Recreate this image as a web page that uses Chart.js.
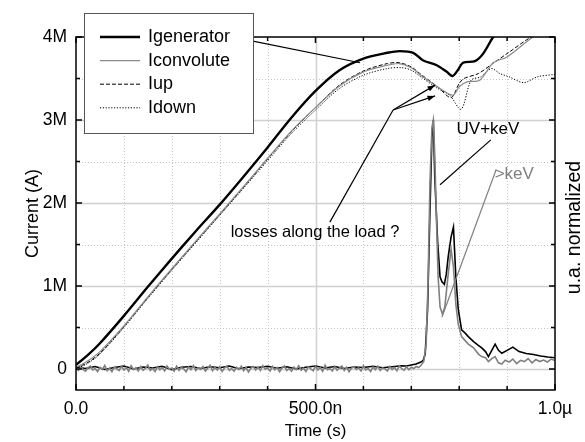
<!DOCTYPE html>
<html>
<head>
<meta charset="utf-8">
<script src="https://cdn.jsdelivr.net/npm/chart.js@4.4.1/dist/chart.umd.min.js"></script>
<style>
  body { margin: 0; background: #fff; }
  canvas { display: block; }
</style>
</head>
<body>
<canvas id="chart" width="585" height="442"></canvas>
<script>
// axes (time in µs, current in MA, signals normalized so 1.0 sits on 3M)
const xTicks = [0, 0.5, 1.0];
const xTickLabels = ['0.0', '500.0n', '1.0\u00b5'];
const xGrid = [0, 0.1, 0.2, 0.3, 0.4, 0.5, 0.6, 0.7, 0.8, 0.9, 1.0];
const yTicks = [0, 1, 2, 3, 4];
const yTickLabels = ['0', '1M', '2M', '3M', '4M'];
const yGrid = [0, 0.5, 1, 1.5, 2, 2.5, 3, 3.5, 4];
const yMin = -0.253, yMax = 4;
const normTo = 3;

// currents
const tGen = [0, 0.025, 0.05, 0.1, 0.15, 0.2, 0.25, 0.3, 0.35, 0.4, 0.45, 0.5, 0.55, 0.6, 0.65, 0.676, 0.704, 0.724, 0.753, 0.774, 0.786, 0.797, 0.808, 0.833, 0.85, 0.871, 0.9, 1.0];
const iGen = [0.05, 0.17, 0.31, 0.64, 0.99, 1.33, 1.66, 1.98, 2.32, 2.67, 3.03, 3.35, 3.6, 3.74, 3.81, 3.83, 3.81, 3.72, 3.66, 3.58, 3.53, 3.6, 3.69, 3.71, 3.8, 4.0, 4.2, 4.5];

const tConv = [0, 0.025, 0.05, 0.1, 0.15, 0.2, 0.25, 0.3, 0.35, 0.4, 0.45, 0.5, 0.55, 0.6, 0.65, 0.675, 0.7, 0.72, 0.755, 0.787, 0.8, 0.816, 0.843, 0.871, 0.9, 0.954, 1.0];
const iConv = [0.02, 0.1, 0.21, 0.52, 0.87, 1.21, 1.54, 1.87, 2.2, 2.54, 2.87, 3.15, 3.41, 3.58, 3.66, 3.68, 3.63, 3.54, 3.4, 3.3, 3.4, 3.46, 3.48, 3.69, 3.76, 4.0, 4.15];

const tUp = [0, 0.025, 0.05, 0.1, 0.15, 0.2, 0.25, 0.3, 0.35, 0.4, 0.45, 0.5, 0.55, 0.6, 0.65, 0.675, 0.7, 0.72, 0.755, 0.783, 0.8, 0.81, 0.84, 0.87, 0.9, 0.95, 1.0];
const iUp = [0.01, 0.08, 0.19, 0.51, 0.86, 1.2, 1.53, 1.86, 2.19, 2.53, 2.86, 3.15, 3.42, 3.59, 3.68, 3.69, 3.64, 3.55, 3.4, 3.27, 3.44, 3.5, 3.56, 3.68, 3.8, 4.0, 4.15];

const tDown = [0, 0.025, 0.05, 0.1, 0.15, 0.2, 0.25, 0.3, 0.35, 0.4, 0.45, 0.5, 0.55, 0.6, 0.65, 0.68, 0.7, 0.72, 0.755, 0.78, 0.804, 0.825, 0.845, 0.867, 0.885, 0.904, 0.935, 0.963, 1.0];
const iDown = [0.0, 0.07, 0.18, 0.5, 0.85, 1.19, 1.52, 1.85, 2.18, 2.51, 2.84, 3.12, 3.38, 3.54, 3.62, 3.63, 3.6, 3.52, 3.38, 3.3, 3.13, 3.48, 3.52, 3.62, 3.56, 3.52, 3.45, 3.52, 3.55];

// UV+keV signal (black)
const tUV = [0, 0.02, 0.04, 0.06, 0.08, 0.1, 0.12, 0.14, 0.16, 0.18, 0.2, 0.22, 0.24, 0.26, 0.28, 0.3, 0.32, 0.34, 0.36, 0.38, 0.4, 0.42, 0.44, 0.46, 0.48, 0.5, 0.52, 0.54, 0.56, 0.58, 0.6, 0.62, 0.64, 0.66, 0.68, 0.69, 0.7, 0.71, 0.72,
  0.725, 0.729, 0.734, 0.739, 0.743, 0.746, 0.749, 0.755, 0.76, 0.764, 0.769, 0.773, 0.777, 0.783, 0.788, 0.793, 0.798, 0.805, 0.812, 0.819, 0.83, 0.84, 0.847, 0.855, 0.861, 0.868, 0.875, 0.882, 0.889, 0.9, 0.912, 0.925, 0.94, 0.955, 0.97, 0.985, 1.0];
const vUV = [0.008, 0.002, 0.01, -0.002, 0.006, 0.012, 0.0, 0.008, 0.004, 0.011, -0.003, 0.007, 0.01, 0.002, 0.009, 0.005, 0.012, 0.001, 0.008, 0.006, 0.011, 0.003, 0.009, 0.0, 0.007, 0.012, 0.004, 0.01, 0.002, 0.008, 0.006, 0.011, 0.005, 0.009, 0.013, 0.012, 0.016, 0.02, 0.028,
  0.035, 0.06, 0.24, 0.64, 0.93, 1.0, 0.77, 0.51, 0.37, 0.35, 0.34, 0.38, 0.45, 0.53, 0.57, 0.37, 0.24, 0.157, 0.145, 0.13, 0.11, 0.095, 0.085, 0.07, 0.05, 0.075, 0.1, 0.075, 0.063, 0.075, 0.088, 0.07, 0.062, 0.058, 0.052, 0.048, 0.045];

// >keV signal (grey)
const tKeV = [0, 0.005, 0.01, 0.015, 0.02, 0.025, 0.03, 0.035, 0.04, 0.045,
  0.05, 0.055, 0.06, 0.065, 0.07, 0.075, 0.08, 0.085, 0.09, 0.095,
  0.1, 0.105, 0.11, 0.115, 0.12, 0.125, 0.13, 0.135, 0.14, 0.145,
  0.15, 0.155, 0.16, 0.165, 0.17, 0.175, 0.18, 0.185, 0.19, 0.195,
  0.2, 0.205, 0.21, 0.215, 0.22, 0.225, 0.23, 0.235, 0.24, 0.245,
  0.25, 0.255, 0.26, 0.265, 0.27, 0.275, 0.28, 0.285, 0.29, 0.295,
  0.3, 0.305, 0.31, 0.315, 0.32, 0.325, 0.33, 0.335, 0.34, 0.345,
  0.35, 0.355, 0.36, 0.365, 0.37, 0.375, 0.38, 0.385, 0.39, 0.395,
  0.4, 0.405, 0.41, 0.415, 0.42, 0.425, 0.43, 0.435, 0.44, 0.445,
  0.45, 0.455, 0.46, 0.465, 0.47, 0.475, 0.48, 0.485, 0.49, 0.495,
  0.5, 0.505, 0.51, 0.515, 0.52, 0.525, 0.53, 0.535, 0.54, 0.545,
  0.55, 0.555, 0.56, 0.565, 0.57, 0.575, 0.58, 0.585, 0.59, 0.595,
  0.6, 0.605, 0.61, 0.615, 0.62, 0.625, 0.63, 0.635, 0.64, 0.645,
  0.65, 0.655, 0.66, 0.665, 0.67, 0.675, 0.68, 0.685, 0.69, 0.695,
  0.7, 0.705, 0.71, 0.715, 0.72,
  0.726, 0.731, 0.735, 0.739, 0.743, 0.746, 0.749, 0.752, 0.756, 0.76, 0.765, 0.77, 0.777, 0.783, 0.788, 0.793, 0.798, 0.805, 0.812, 0.819, 0.83, 0.84, 0.847, 0.855, 0.861, 0.868, 0.875, 0.882, 0.889, 0.896, 0.904, 0.912, 0.92, 0.928, 0.936, 0.944, 0.952, 0.96, 0.968, 0.976, 0.984, 0.992, 1.0];
const vKeV = [0.004, -0.006, 0.009, -0.003, -0.009, 0.006, 0.012, -0.004, 0.002, -0.01,
  0.007, -0.002, 0.014, -0.007, 0.003, -0.011, 0.008, 0.001, -0.006, 0.011,
  -0.004, 0.006, -0.009, 0.013, -0.002, 0.005, -0.008, 0.01, -0.005, 0.003,
  0.016, -0.006, 0.002, -0.01, 0.009, -0.003, 0.006, -0.008, 0.012, -0.001,
  0.004, -0.009, 0.011, -0.005, 0.007, 0.0, -0.011, 0.008, -0.003, 0.013,
  -0.006, 0.005, -0.002, 0.01, -0.008, 0.003, 0.015, -0.007, 0.006, -0.004,
  0.009, -0.01, 0.004, 0.012, -0.005, 0.002, -0.009, 0.007, -0.002, 0.011,
  -0.007, 0.006, -0.012, 0.003, 0.01, -0.004, 0.008, -0.006, 0.014, -0.001,
  0.005, -0.008, 0.01, -0.003, 0.006, -0.011, 0.004, 0.012, -0.006, 0.002,
  -0.009, 0.008, -0.002, 0.013, -0.005, 0.003, -0.01, 0.009, 0.001, -0.007,
  0.011, -0.004, 0.006, -0.009, 0.015, -0.003, 0.002, -0.008, 0.01, -0.005,
  0.004, 0.012, -0.006, 0.007, -0.011, 0.003, 0.009, -0.002, 0.005, -0.008,
  0.013, -0.004, 0.002, -0.01, 0.008, -0.003, 0.011, -0.006, 0.004, 0.0,
  -0.008, 0.01, -0.002, 0.006, -0.007, 0.012, 0.001, -0.005, 0.009, -0.003,
  0.007, 0.002, 0.01, 0.006, 0.014,
  0.03, 0.1, 0.35, 0.75, 0.97, 1.0, 0.86, 0.64, 0.37, 0.25, 0.22, 0.25, 0.38, 0.48, 0.41, 0.26, 0.18, 0.13, 0.115, 0.1, 0.085, 0.06, 0.05, 0.045, 0.03, 0.042, 0.05, 0.025, 0.02, 0.035, 0.028, 0.04, 0.022, 0.035, 0.03, 0.042, 0.025, 0.038, 0.03, 0.036, 0.028, 0.04, 0.034];

// annotation anchors in data units [x µs, y MA]
const noteLosses = { text: 'losses along the load ?', at: [0.499, 1.64] };
const lossesHub = [0.662, 3.12];
const lossesFoot = [0.53, 1.77];
const lossesTips = [[0.7495, 3.42], [0.7495, 3.29]];
const legendPointer = [[0.3695, 3.95], [0.593, 3.69]];
const noteUV = { text: 'UV+keV', at: [0.86, 2.89] };
const uvPointer = [[0.866, 2.76], [0.76, 2.22]];
const noteKeV = { text: '>keV', at: [0.874, 2.34] };
const kevPointer = [[0.877, 2.40], [0.764, 0.627]];

const pts = (t, v) => t.map((x, i) => ({ x: x, y: v[i] }));
const FONT = "'Liberation Sans', Arial, sans-serif";

function arrow(ctx, x0, y0, x1, y1) {
  ctx.beginPath();
  ctx.moveTo(x0, y0);
  ctx.lineTo(x1, y1);
  ctx.stroke();
  const a = Math.atan2(y1 - y0, x1 - x0);
  ctx.beginPath();
  ctx.moveTo(x1, y1);
  ctx.lineTo(x1 - 8 * Math.cos(a - 0.35), y1 - 8 * Math.sin(a - 0.35));
  ctx.lineTo(x1 - 8 * Math.cos(a + 0.35), y1 - 8 * Math.sin(a + 0.35));
  ctx.closePath();
  ctx.fill();
}

const framePlugin = {
  id: 'frame',
  beforeDatasetsDraw(chart) {
    const { ctx, chartArea: a, scales: { x, y } } = chart;
    ctx.save();
    xGrid.forEach(v => {
      if (v === 0 || v === 1) return;
      const px = Math.round(x.getPixelForValue(v)) + 0.5;
      const major = xTicks.includes(v);
      ctx.strokeStyle = major ? '#d0d0d0' : '#c4c4c4';
      ctx.lineWidth = major ? 1.5 : 1;
      ctx.setLineDash(major ? [] : [1, 2]);
      ctx.beginPath(); ctx.moveTo(px, a.top); ctx.lineTo(px, a.bottom); ctx.stroke();
    });
    yGrid.forEach(v => {
      if (v === yMax) return;
      const py = Math.round(y.getPixelForValue(v)) + 0.5;
      const major = yTicks.includes(v);
      ctx.strokeStyle = major ? '#d0d0d0' : '#c4c4c4';
      ctx.lineWidth = major ? 1.5 : 1;
      ctx.setLineDash(major ? [] : [1, 2]);
      ctx.beginPath(); ctx.moveTo(a.left, py); ctx.lineTo(a.right, py); ctx.stroke();
    });
    ctx.restore();
  },
  afterDatasetsDraw(chart) {
    const { ctx, chartArea: a, scales: { x, y } } = chart;
    const P = p => [x.getPixelForValue(p[0]), y.getPixelForValue(p[1])];
    ctx.save();
    // frame and inward ticks
    ctx.strokeStyle = '#000';
    ctx.lineWidth = 1.5;
    ctx.strokeRect(a.left, a.top, a.right - a.left, a.bottom - a.top);
    xGrid.forEach(v => {
      const px = x.getPixelForValue(v);
      const len = xTicks.includes(v) ? 6 : 4;
      ctx.beginPath();
      ctx.moveTo(px, a.bottom); ctx.lineTo(px, a.bottom - len);
      ctx.moveTo(px, a.top); ctx.lineTo(px, a.top + len);
      ctx.stroke();
    });
    yGrid.forEach(v => {
      const py = y.getPixelForValue(v);
      const len = yTicks.includes(v) ? 6 : 4;
      ctx.beginPath();
      ctx.moveTo(a.left, py); ctx.lineTo(a.left + len, py);
      ctx.moveTo(a.right, py); ctx.lineTo(a.right - len, py);
      ctx.stroke();
    });

    // right axis title
    ctx.save();
    ctx.translate(575, (a.top + a.bottom) / 2 + 14);
    ctx.rotate(-Math.PI / 2);
    ctx.font = '19.5px ' + FONT;
    ctx.fillStyle = '#000';
    ctx.textAlign = 'center';
    ctx.textBaseline = 'middle';
    ctx.fillText('u.a. normalized', 0, 0);
    ctx.restore();

    // annotations
    ctx.lineWidth = 1.2;
    ctx.strokeStyle = '#000';
    ctx.fillStyle = '#000';
    let p0 = P(legendPointer[0]), p1 = P(legendPointer[1]);
    ctx.beginPath(); ctx.moveTo(p0[0], p0[1]); ctx.lineTo(p1[0], p1[1]); ctx.stroke();
    const hub = P(lossesHub), foot = P(lossesFoot);
    ctx.beginPath(); ctx.moveTo(foot[0], foot[1]); ctx.lineTo(hub[0], hub[1]); ctx.stroke();
    lossesTips.forEach(t => { const q = P(t); arrow(ctx, hub[0], hub[1], q[0], q[1]); });
    p0 = P(uvPointer[0]); p1 = P(uvPointer[1]);
    ctx.beginPath(); ctx.moveTo(p0[0], p0[1]); ctx.lineTo(p1[0], p1[1]); ctx.stroke();
    ctx.strokeStyle = '#808080';
    p0 = P(kevPointer[0]); p1 = P(kevPointer[1]);
    ctx.beginPath(); ctx.moveTo(p0[0], p0[1]); ctx.lineTo(p1[0], p1[1]); ctx.stroke();

    ctx.textBaseline = 'middle';
    ctx.textAlign = 'center';
    ctx.fillStyle = '#000';
    ctx.font = '16.5px ' + FONT;
    let q = P(noteLosses.at);
    ctx.fillText(noteLosses.text, q[0], q[1]);
    ctx.font = '17px ' + FONT;
    q = P(noteUV.at);
    ctx.fillText(noteUV.text, q[0], q[1]);
    q = P(noteKeV.at);
    ctx.textAlign = 'left';
    ctx.fillStyle = '#808080';
    ctx.fillText(noteKeV.text, q[0], q[1]);

    // legend box
    const sets = chart.data.datasets.filter(d => d.inLegend);
    ctx.fillStyle = '#fff';
    ctx.fillRect(84, 13, 169, 120);
    ctx.strokeStyle = '#555';
    ctx.lineWidth = 1;
    ctx.strokeRect(84.5, 13.5, 169, 120);
    ctx.font = '18px ' + FONT;
    ctx.textAlign = 'left';
    sets.forEach((d, i) => {
      const ly = 37 + i * 23.6;
      ctx.strokeStyle = d.borderColor;
      ctx.lineWidth = d.borderWidth;
      ctx.setLineDash(d.borderDash || []);
      ctx.beginPath(); ctx.moveTo(100, ly); ctx.lineTo(140, ly); ctx.stroke();
      ctx.setLineDash([]);
      ctx.fillStyle = '#000';
      ctx.fillText(d.label, 148, ly);
    });
    ctx.restore();
  }
};

new Chart(document.getElementById('chart'), {
  type: 'line',
  data: {
    datasets: [
      { label: 'Igenerator', inLegend: true, data: pts(tGen, iGen), borderColor: '#000', borderWidth: 2.4, tension: 0.3 },
      { label: 'Iconvolute', inLegend: true, data: pts(tConv, iConv), borderColor: '#8a8a8a', borderWidth: 1.2, tension: 0.3 },
      { label: 'Iup', inLegend: true, data: pts(tUp, iUp), borderColor: '#000', borderWidth: 1, borderDash: [4, 2], tension: 0.3 },
      { label: 'Idown', inLegend: true, data: pts(tDown, iDown), borderColor: '#000', borderWidth: 1, borderDash: [1.2, 1.6], tension: 0.3 },
      { label: '>keV', data: pts(tKeV, vKeV), yAxisID: 'y2', borderColor: '#808080', borderWidth: 1.6, tension: 0 },
      { label: 'UV+keV', data: pts(tUV, vUV), yAxisID: 'y2', borderColor: '#000', borderWidth: 1.6, tension: 0 }
    ]
  },
  options: {
    responsive: false,
    animation: false,
    elements: { point: { radius: 0 } },
    layout: { padding: { top: 37, left: 0, right: 0, bottom: 0 } },
    plugins: { legend: { display: false }, tooltip: { enabled: false } },
    scales: {
      x: {
        type: 'linear', min: 0, max: 1,
        grid: { display: false, drawTicks: false },
        border: { display: false },
        afterBuildTicks: s => { s.ticks = xTicks.map(v => ({ value: v })); },
        afterFit: s => { s.height = 52; },
        ticks: {
          padding: 9, color: '#000', maxRotation: 0,
          font: { family: FONT, size: 17.5 },
          callback: v => xTickLabels[xTicks.indexOf(v)]
        },
        title: { display: true, text: 'Time (s)', color: '#000', font: { family: FONT, size: 17 }, padding: { top: 1, bottom: 0 } }
      },
      y: {
        position: 'left', min: yMin, max: yMax,
        grid: { display: false, drawTicks: false },
        border: { display: false },
        afterBuildTicks: s => { s.ticks = yTicks.map(v => ({ value: v })); },
        afterFit: s => { s.width = 76; },
        ticks: {
          padding: 9, color: '#000',
          font: { family: FONT, size: 17.5 },
          callback: v => yTickLabels[yTicks.indexOf(v)]
        },
        title: { display: true, text: 'Current (A)', color: '#000', font: { family: FONT, size: 18 }, padding: { top: 22, bottom: 0 } }
      },
      y2: {
        position: 'right', min: yMin / normTo, max: yMax / normTo,
        grid: { display: false, drawTicks: false },
        border: { display: false },
        ticks: { display: false },
        afterFit: s => { s.width = 30; }
      }
    }
  },
  plugins: [framePlugin]
});
</script>
</body>
</html>
